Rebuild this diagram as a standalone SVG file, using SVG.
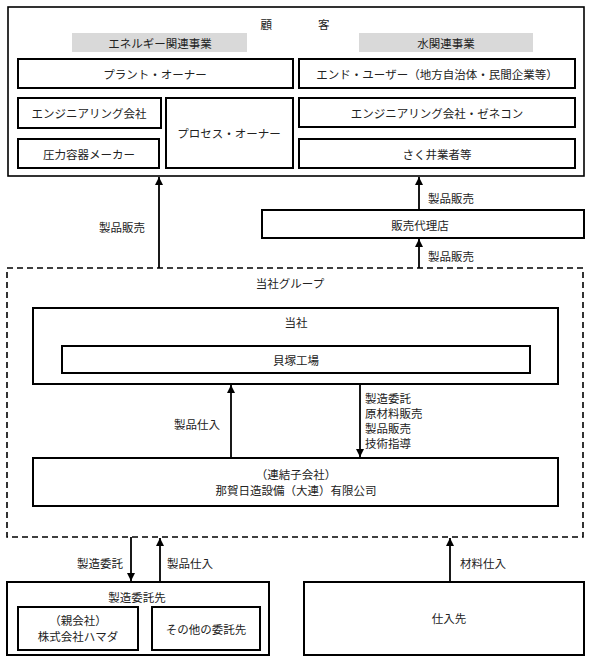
<svg xmlns="http://www.w3.org/2000/svg" width="592" height="658" viewBox="0 0 592 658">
<defs>
<marker id="ah" markerUnits="userSpaceOnUse" markerWidth="8" markerHeight="10" refX="8" refY="4" orient="auto">
<path d="M0,0 L8,4 L0,8 Z" fill="#000"/>
</marker>
<style>
text{font-family:"Noto Sans CJK JP","Noto Sans CJK SC",sans-serif;font-size:11.5px;fill:#222;text-anchor:middle;dominant-baseline:central}
.s{text-anchor:start}
.e{text-anchor:end}
.box{fill:#fff;stroke:#000;stroke-width:2}
.outer{fill:#fff;stroke:#000;stroke-width:1.6}
.gray{fill:#d9d9d9;stroke:none}
.dash{fill:none;stroke:#000;stroke-width:1.6;stroke-dasharray:6 4}
.conn{stroke:#000;stroke-width:1.8;fill:none;marker-end:url(#ah)}
</style>
</defs>
<rect width="592" height="658" fill="#fff"/>

<g id="customers">
<rect class="outer" x="8" y="7" width="576" height="169"/>
<text x="295" y="24">顧　　　　客</text>
<rect class="gray" x="72" y="33" width="175" height="19"/>
<text x="160" y="43">エネルギー関連事業</text>
<rect class="gray" x="359" y="33" width="174" height="19"/>
<text x="446" y="43">水関連事業</text>
</g>
<g id="plant-owner"><rect class="box" x="18" y="59" width="275" height="29"/><text x="155" y="74">プラント・オーナー</text></g>
<g id="eng-company"><rect class="box" x="18" y="98" width="143" height="30"/><text x="89" y="113">エンジニアリング会社</text></g>
<g id="pressure-vessel"><rect class="box" x="18" y="139" width="141" height="29"/><text x="89" y="154">圧力容器メーカー</text></g>
<g id="process-owner"><rect class="box" x="166" y="98" width="127" height="70"/><text x="229" y="133">プロセス・オーナー</text></g>
<g id="end-user"><rect class="box" x="299" y="59" width="276" height="29"/><text x="437" y="74">エンド・ユーザー（地方自治体・民間企業等）</text></g>
<g id="eng-general"><rect class="box" x="299" y="98" width="276" height="29"/><text x="437" y="113">エンジニアリング会社・ゼネコン</text></g>
<g id="well-drilling"><rect class="box" x="299" y="139" width="276" height="29"/><text x="437" y="154">さく井業者等</text></g>

<g id="agent"><rect class="box" x="262" y="210" width="322" height="28"/><text x="420" y="225">販売代理店</text></g>

<g id="group">
<rect class="dash" x="7" y="268" width="576" height="269"/>
<text x="290" y="283">当社グループ</text>
</g>
<g id="company"><rect class="box" x="33" y="308" width="525" height="76"/><text x="296" y="322">当社</text></g>
<g id="kaizuka"><rect class="box" x="62" y="346" width="468" height="27"/><text x="296" y="360">貝塚工場</text></g>
<g id="subsidiary"><rect class="box" x="33" y="458" width="525" height="48"/><text x="296" y="474">（連結子会社）</text><text x="296" y="490">那賀日造設備（大連）有限公司</text></g>

<g id="contractors">
<rect class="box" x="7" y="582" width="262" height="73"/>
<text x="137" y="597">製造委託先</text>
</g>
<g id="hamada"><rect class="box" x="18" y="607" width="120" height="43"/><text x="78" y="620">（親会社）</text><text x="78" y="636">株式会社ハマダ</text></g>
<g id="other-contractors"><rect class="box" x="152" y="607" width="108" height="43"/><text x="206" y="629">その他の委託先</text></g>
<g id="supplier"><rect class="box" x="304" y="582" width="280" height="73"/><text x="449" y="618">仕入先</text></g>

<g id="connectors">
<line class="conn" x1="159" y1="268" x2="159" y2="177"/>
<line class="conn" x1="419" y1="210" x2="419" y2="177"/>
<line class="conn" x1="419" y1="268" x2="419" y2="239"/>
<line class="conn" x1="231" y1="458" x2="231" y2="385"/>
<line class="conn" x1="360" y1="384" x2="360" y2="457"/>
<line class="conn" x1="131" y1="537" x2="131" y2="581"/>
<line class="conn" x1="160" y1="582" x2="160" y2="538"/>
<line class="conn" x1="450" y1="582" x2="450" y2="538"/>
<text x="122" y="227">製品販売</text>
<text class="s" x="428" y="198">製品販売</text>
<text class="s" x="428" y="256">製品販売</text>
<text class="e" x="220" y="424">製品仕入</text>
<text class="s" x="365" y="397.5">製造委託</text>
<text class="s" x="365" y="412.5">原材料販売</text>
<text class="s" x="365" y="427.5">製品販売</text>
<text class="s" x="365" y="442.5">技術指導</text>
<text class="e" x="123" y="563">製造委託</text>
<text class="s" x="167" y="563">製品仕入</text>
<text class="s" x="460" y="563">材料仕入</text>
</g>
</svg>
